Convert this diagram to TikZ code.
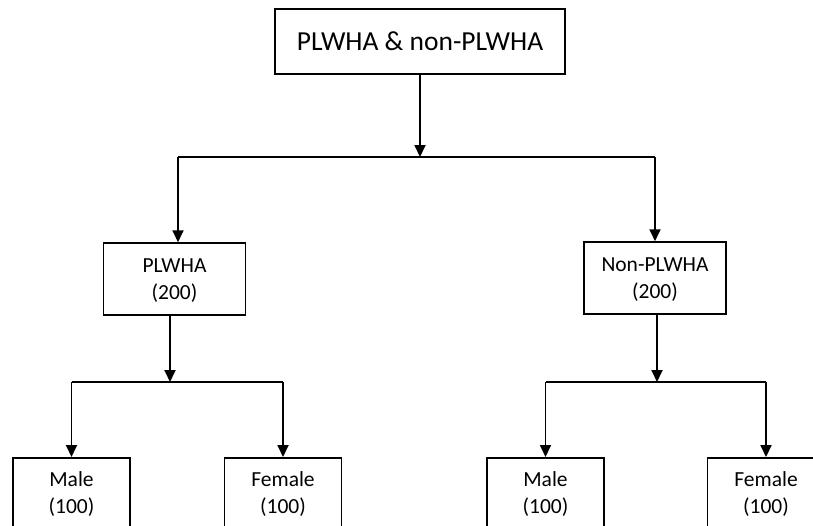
\documentclass[tikz,border=0pt]{standalone}
\usepackage{fontspec}
\setmainfont{Carlito}
\usetikzlibrary{arrows.meta}
\begin{document}
\begin{tikzpicture}[x=1pt,y=-1pt,
  box/.style={draw=black,line width=1.5pt,fill=white,inner sep=0pt,align=center,
    font=\fontsize{21.5}{27}\selectfont},
  topbox/.style={box,font=\fontsize{27.5}{33}\selectfont,minimum width=290pt,minimum height=65pt},
  midbox/.style={box,minimum width=142pt,minimum height=72pt,text depth=0pt},
  leafbox/.style={box,minimum width=117pt,minimum height=70pt,anchor=north,text depth=0pt},
  conn/.style={line width=1.8pt,draw=black},
  arr/.style={conn,-{Triangle[length=12pt,width=11pt]}}]
\useasboundingbox (0,0) rectangle (813,525);
\clip (0,0) rectangle (813,525);
\node[topbox] (top) at (420,41.5) {PLWHA \& non-PLWHA};
\node[midbox] (pl) at (174.5,279) {PLWHA\\(200)};
\node[midbox] (npl) at (655,278) {Non-PLWHA\\(200)};
\node[leafbox] (m1) at (71.5,457) {Male\\(100)};
\node[leafbox] (f1) at (283,457) {Female\\(100)};
\node[leafbox] (m2) at (545.5,457) {Male\\(100)};
\node[leafbox] (f2) at (766,457) {Female\\(100)};
\coordinate (j0) at (420,157);
\coordinate (j1) at (170,382);
\coordinate (j2) at (657,382);
% top split
\draw[arr] (top.south) -- (j0);
\draw[conn] (j0) -- (j0 -| 178,0) coordinate (a0);
\draw[conn] (j0) -- (j0 -| npl.north) coordinate (b0);
\draw[arr] (a0) -- (a0 |- pl.north);
\draw[arr] (b0) -- (npl.north);
% left split
\draw[arr] (j1 |- pl.south) -- (j1);
\draw[conn] (j1) -- (j1 -| m1.north);
\draw[arr] (j1 -| m1.north) -- (m1.north);
\draw[conn] (j1) -- (j1 -| f1.north);
\draw[arr] (j1 -| f1.north) -- (f1.north);
% right split
\draw[arr] (j2 |- npl.south) -- (j2);
\draw[conn] (j2) -- (j2 -| m2.north);
\draw[arr] (j2 -| m2.north) -- (m2.north);
\draw[conn] (j2) -- (j2 -| f2.north);
\draw[arr] (j2 -| f2.north) -- (f2.north);
\end{tikzpicture}
\end{document}
